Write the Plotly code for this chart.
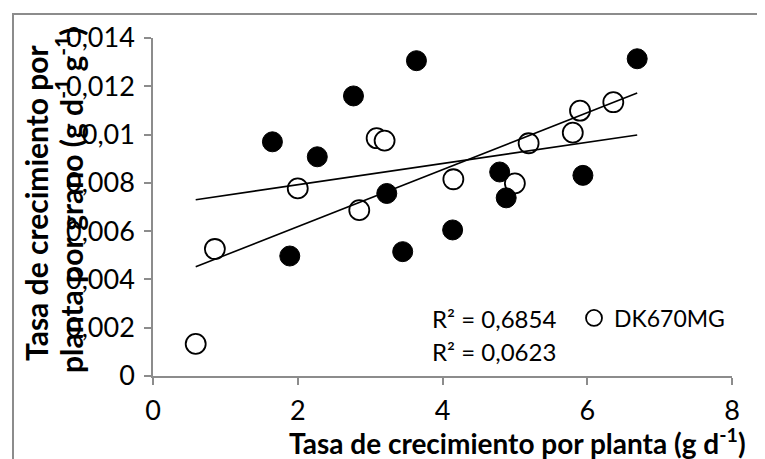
import numpy as np
import plotly.graph_objects as go

# Open circles (DK670MG)
open_x = [0.59, 0.855, 2.00, 2.85, 3.09, 3.20, 4.15, 5.00, 5.19, 5.80, 5.90, 6.36]
open_y = [0.00133, 0.00526, 0.00777, 0.00687, 0.00985, 0.00975, 0.00815, 0.00798, 0.00964, 0.01008, 0.01099, 0.01134]

# Filled circles
fill_x = [1.65, 1.89, 2.27, 2.77, 3.23, 3.45, 3.64, 4.14, 4.79, 4.88, 5.94, 6.69]
fill_y = [0.0097, 0.00497, 0.00908, 0.0116, 0.00756, 0.00515, 0.01306, 0.00605, 0.00845, 0.00738, 0.00831, 0.01314]

r2_labels = ["R² = 0,6854", "R² = 0,0623"]
series_name = "DK670MG"

x_tickvals = [0, 2, 4, 6, 8]
x_ticktext = ["0", "2", "4", "6", "8"]
y_tickvals = [0, 0.002, 0.004, 0.006, 0.008, 0.01, 0.012, 0.014]
y_ticktext = ["0", "0,002", "0,004", "0,006", "0,008", "0,01", "0,012", "0,014"]

FONT = "Lato"
# page body has an 8px margin; figure is sized/offset to compensate
W, H = 757, 451
L, T = 145, 30
pw, ph = 579, 338
R, B = W - L - pw, H - T - ph
SX0, SY0 = 153, 376  # screen position of plot-area bottom-left


def px(x):
    return (x - SX0) / pw


def py(y):
    return (SY0 - y) / ph


fig = go.Figure()

fig.add_trace(go.Scatter(
    x=open_x, y=open_y, mode="markers", name=series_name, showlegend=True,
    marker=dict(symbol="circle", size=20, color="white", line=dict(color="black", width=1.8)),
))
fig.add_trace(go.Scatter(
    x=fill_x, y=fill_y, mode="markers", name="filled", showlegend=False,
    marker=dict(symbol="circle", size=20, color="black", line=dict(color="black", width=1)),
))

xmin = min(min(open_x), min(fill_x))
xmax = max(max(open_x), max(fill_x))
for xs, ys in [(open_x, open_y), (fill_x, fill_y)]:
    m, c = np.polyfit(xs, ys, 1)
    lx = np.array([xmin, xmax])
    fig.add_trace(go.Scatter(
        x=lx, y=m * lx + c, mode="lines", showlegend=False, hoverinfo="skip",
        line=dict(color="black", width=1.6),
    ))

axis_common = dict(
    showgrid=False, zeroline=False, showline=True, linecolor="#8c8c8c", linewidth=1.5,
    ticks="outside", ticklen=7, tickcolor="#8c8c8c", tickwidth=1.5,
    tickfont=dict(family=FONT, size=27, color="black"),
)

fig.update_layout(
    width=W, height=H,
    margin=dict(l=L, r=R, t=T, b=B, autoexpand=False),
    paper_bgcolor="white", plot_bgcolor="white",
    font=dict(family=FONT, color="black"),
    xaxis=dict(range=[0, 8], tickvals=x_tickvals, ticktext=x_ticktext, ticklabelstandoff=3, **axis_common),
    yaxis=dict(range=[0, 0.014], tickvals=y_tickvals, ticktext=y_ticktext, ticklabelstandoff=4, **axis_common),
    showlegend=True,
    legend=dict(x=px(574), y=py(318), xanchor="left", yanchor="middle",
                font=dict(family=FONT, size=23, color="black"), bgcolor="rgba(0,0,0,0)"),
    annotations=[
        dict(text=r2_labels[0], x=px(430), y=py(318), xref="paper", yref="paper",
             xanchor="left", yanchor="middle", showarrow=False, font=dict(family=FONT, size=24)),
        dict(text=r2_labels[1], x=px(430), y=py(351), xref="paper", yref="paper",
             xanchor="left", yanchor="middle", showarrow=False, font=dict(family=FONT, size=24)),
        dict(text="<b>Tasa de crecimiento por planta (g d<sup>-1</sup>)</b>", x=px(518), y=py(442),
             xref="paper", yref="paper", xanchor="center", yanchor="middle", showarrow=False,
             font=dict(family=FONT, size=28)),
        dict(text="<b>Tasa de crecimiento por</b>", x=px(36), y=py(203), textangle=-90,
             xref="paper", yref="paper", xanchor="center", yanchor="middle", showarrow=False,
             font=dict(family=FONT, size=30)),
        dict(text="<b>planta por grano (g d<sup>-1</sup> g<sup>-1</sup>)</b>", x=px(69), y=py(200), textangle=-90,
             xref="paper", yref="paper", xanchor="center", yanchor="middle", showarrow=False,
             font=dict(family=FONT, size=30)),
    ],
    shapes=[
        dict(type="rect", xref="paper", yref="paper", x0=px(13), y0=py(480), x1=px(790), y1=py(14),
             line=dict(color="#8c8c8c", width=2), fillcolor="rgba(0,0,0,0)", layer="below"),
    ],
)

fig.write_html("out.html")
